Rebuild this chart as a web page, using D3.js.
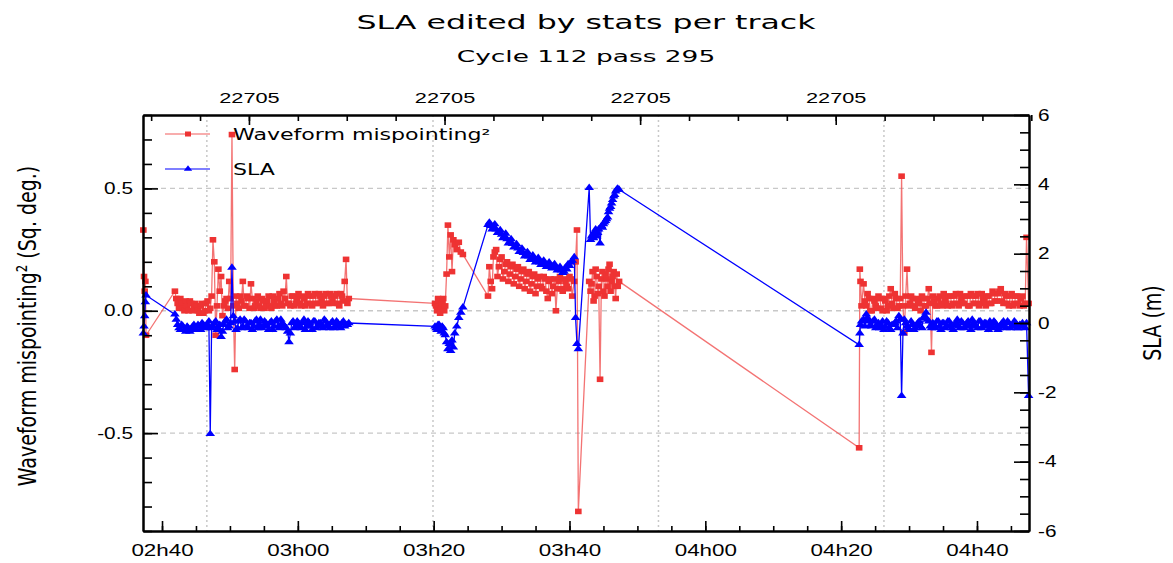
<!DOCTYPE html>
<html lang="en">
<head>
<meta charset="utf-8">
<title>SLA edited by stats per track</title>
<script src="https://d3js.org/d3.v7.min.js"></script>
<style>
  body { margin: 0; background: #fff; }
  svg { display: block; font-family: "DejaVu Sans", sans-serif; }
  .axis path, .axis line { stroke: #000; }
  .axis path { stroke-width: 2; }
  .axis line { stroke-width: 1.6; }
  .axis text { font-size: 16px; fill: #000; }
</style>
</head>
<body>
<div id="container"></div>
<script>
// time in minutes after 02h00, mispointing in sq. deg., SLA in m
var time = [
  // start of pass
  37.25, 37.35, 37.45, 37.55, 37.65,
  41.9, 42.3, 42.7, 43.1, 43.5, 43.9, 44.3, 44.7, 45.1, 45.5,
  45.9, 46.3, 46.7, 47.1, 47.5, 47.9, 48.3, 48.7, 49.1, 49.5,
  49.9, 50.3, 50.7, 51.1, 51.5, 51.9, 52.3, 52.7, 53.1, 53.5,
  53.9, 54.3, 54.7, 55.1, 55.5, 55.9, 56.3, 56.7, 57.1, 57.5,
  57.9, 58.3, 58.7, 59.1, 59.5, 59.9, 60.3, 60.7, 61.1, 61.5,
  61.9, 62.3, 62.7, 63.1, 63.5, 63.9, 64.3, 64.7, 65.1, 65.5,
  65.9, 66.3, 66.7, 67.1, 67.5,
  // second block
  80.2, 80.5, 80.8, 81.1, 81.4, 81.7, 81.9, 82.1, 82.3, 82.5,
  82.7, 82.9, 83.1, 83.4, 83.7, 84.0, 84.3,
  88.0, 88.4, 88.8, 89.2, 89.6, 90.0, 90.4, 90.8, 91.2, 91.6,
  92.0, 92.4, 92.8, 93.2, 93.6, 94.0, 94.4, 94.8, 95.2, 95.6,
  96.0, 96.4, 96.8, 97.2, 97.6, 98.0, 98.4, 98.8, 99.2, 99.6,
  100.0, 100.4, 100.7, 100.9, 101.1, 101.3,
  102.9, 103.1, 103.4, 103.7, 104.0, 104.3, 104.5, 104.7, 105.0, 105.3,
  105.6, 105.9, 106.2, 106.5, 106.8, 107.1, 107.3,
  // third block
  142.65, 142.75, 142.85, 143.0,
  143.3, 143.7, 144.1, 144.5, 144.9, 145.3, 145.7, 146.1, 146.5, 146.9,
  147.3, 147.7, 148.1, 148.5, 148.9, 149.3, 149.7, 150.1, 150.5, 150.9,
  151.3, 151.7, 152.1, 152.5, 152.9, 153.3, 153.7, 154.1, 154.5, 154.9,
  155.3, 155.7, 156.1, 156.5, 156.9, 157.3, 157.7, 158.1, 158.5, 158.9,
  159.3, 159.7, 160.1, 160.5, 160.9, 161.3, 161.7, 162.1, 162.5, 162.9,
  163.3, 163.7, 164.1, 164.5, 164.9, 165.3, 165.7, 166.1, 166.5, 166.9,
  167.3, 167.6
];
var misp = [
  0.33, 0.14, 0.08, 0.12, -0.10,
  0.08, 0.03, 0.05, 0.01, 0.04, 0.00, 0.03, 0.01, 0.02, -0.01,
  0.03, 0.00, 0.04, 0.01, 0.29, -0.10, 0.17, 0.14, 0.02, 0.05,
  0.12, 0.72, -0.24, 0.03, 0.06, 0.12, 0.02, 0.05, 0.11, 0.01,
  0.04, 0.02, 0.05, 0.01, 0.04, 0.02, 0.06, 0.02, 0.05, 0.03,
  0.08, 0.14, 0.03, 0.06, 0.02, 0.05, 0.03, 0.06, 0.02, 0.07,
  0.03, 0.06, 0.03, 0.07, 0.04, 0.06, 0.03, 0.07, 0.04, 0.06,
  0.03, 0.07, 0.04, 0.21, 0.05,
  0.03, 0.00, 0.04, 0.01, 0.05, 0.02, 0.15, 0.35, 0.22, 0.31,
  0.16, 0.29, 0.27, 0.25, 0.28, 0.24, 0.23,
  0.06, 0.12, 0.22, 0.25, 0.18, 0.22, 0.16, 0.20, 0.15, 0.19,
  0.14, 0.18, 0.13, 0.17, 0.12, 0.16, 0.11, 0.15, 0.10, 0.14,
  0.09, 0.13, 0.05, 0.13, 0.10, 0.00, 0.12, 0.09, 0.13, 0.10,
  0.14, 0.06, 0.12, 0.20, 0.33, -0.82,
  0.12, 0.08, 0.16, 0.06, 0.14, 0.10, -0.28, 0.13, 0.08, 0.15,
  0.10, 0.19, 0.12, 0.16, 0.05, 0.10, 0.12,
  -0.56, 0.17, 0.12, 0.02,
  0.11, 0.02, 0.05, 0.00, 0.04, 0.01, 0.05, 0.00, 0.04, 0.02,
  0.09, 0.01, 0.05, 0.02, 0.55, -0.09, 0.17, 0.03, 0.05, 0.01,
  0.04, 0.00, 0.05, 0.02, 0.09, -0.17, 0.04, 0.02, 0.06, 0.02,
  0.05, 0.02, 0.06, 0.03, 0.07, 0.02, 0.05, 0.03, 0.06, 0.02,
  0.06, 0.03, 0.07, 0.03, 0.05, 0.02, 0.06, 0.03, 0.07, 0.04,
  0.08, 0.04, 0.07, 0.03, 0.06, 0.02, 0.06, 0.03, 0.05, 0.02,
  0.30, 0.03
];
var sla = [
  -0.30, -0.10, 0.20, 0.60, 0.80,
  0.25, -0.05, -0.20, -0.10, -0.25, -0.15, -0.20, -0.05, -0.20, -0.10,
  0.00, -0.15, -0.05, -3.20, -0.10, 0.05, -0.15, -0.40, -0.05, 0.10,
  -0.10, 1.60, 0.05, -0.15, 0.10, -0.10, 0.05, -0.15, 0.00, -0.10,
  0.10, -0.05, -0.15, 0.05, -0.10, 0.00, -0.20, 0.05, -0.10, 0.10,
  -0.05, -0.15, -0.55, 0.00, -0.15, 0.05, -0.10, 0.00, -0.20, 0.05,
  -0.10, 0.05, -0.15, 0.00, -0.10, 0.10, -0.05, -0.15, 0.05, -0.10,
  0.00, -0.15, 0.05, -0.05, 0.00,
  -0.10, -0.20, -0.05, -0.25, -0.15, -0.35, -0.55, -0.75, -0.60, -0.80,
  -0.50, -0.70, -0.30, -0.10, 0.15, 0.30, 0.45,
  2.83, 2.80, 2.75, 2.70, 2.62, 2.55, 2.50, 2.42, 2.35, 2.28,
  2.20, 2.15, 2.08, 2.02, 1.98, 1.92, 1.88, 1.85, 1.80, 1.75,
  1.72, 1.70, 1.66, 1.62, 1.65, 1.60, 1.55, 1.52, 1.48, 1.55,
  1.65, 1.80, 1.90, 0.15, -0.60, -0.75,
  3.90, 2.40, 2.55, 2.62, 2.50, 2.70, 2.30, 2.80, 2.85, 2.95,
  3.05, 3.30, 3.45, 3.65, 3.80, 3.88, 3.85,
  -0.63, -0.30, -0.05, 0.05,
  0.10, 0.25, 0.05, -0.10, 0.10, -0.05, -0.15, 0.05, -0.10, 0.00,
  -0.20, -0.05, 0.05, 0.20, -2.10, 0.10, -0.10, -0.20, -0.05, -0.15,
  0.00, -0.10, 0.15, 0.30, 0.05, -0.15, -0.05, 0.05, -0.10, 0.00,
  -0.15, 0.05, -0.05, -0.20, 0.00, -0.10, 0.05, -0.15, 0.00, -0.10,
  0.10, -0.05, -0.15, 0.05, -0.10, 0.00, -0.20, -0.05, 0.05, -0.10,
  -0.15, 0.00, -0.10, 0.05, -0.15, -0.05, 0.00, -0.15, -0.05, -0.10,
  0.00, -2.10
];

// samples in between, inside the dense stretches
var timeFill = [
  42.1, 42.5, 42.9, 43.3, 43.7, 44.1, 44.5, 44.9, 45.3, 45.7,
  46.1, 46.5, 46.9, 47.3, 47.7, 48.1, 48.5, 48.9, 49.3, 49.7,
  50.1, 50.5, 50.9, 51.3, 51.7, 52.1, 52.5, 52.9, 53.3, 53.7,
  54.1, 54.5, 54.9, 55.3, 55.7, 56.1, 56.5, 56.9, 57.3, 57.7,
  58.1, 58.5, 58.9, 59.3, 59.7, 60.1, 60.5, 60.9, 61.3, 61.7,
  62.1, 62.5, 62.9, 63.3, 63.7, 64.1, 64.5, 64.9, 65.3, 65.7,
  66.1, 66.5, 66.9, 67.3,
  80.35, 80.65, 80.95, 81.25, 81.55,
  88.2, 88.6, 89.0, 89.4, 89.8, 90.2, 90.6, 91.0, 91.4, 91.8,
  92.2, 92.6, 93.0, 93.4, 93.8, 94.2, 94.6, 95.0, 95.4, 95.8,
  96.2, 96.6, 97.0, 97.4, 97.8, 98.2, 98.6, 99.0, 99.4, 99.8,
  100.2,
  103.25, 103.55, 103.85, 104.15, 104.85, 105.15, 105.45, 105.75, 106.05, 106.35,
  106.65, 106.95,
  143.5, 143.9, 144.3, 144.7, 145.1, 145.5, 145.9, 146.3, 146.7, 147.1,
  147.5, 147.9, 148.3, 148.7, 149.1, 149.5, 149.9, 150.3, 150.7, 151.1,
  151.5, 151.9, 152.3, 152.7, 153.1, 153.5, 153.9, 154.3, 154.7, 155.1,
  155.5, 155.9, 156.3, 156.7, 157.1, 157.5, 157.9, 158.3, 158.7, 159.1,
  159.5, 159.9, 160.3, 160.7, 161.1, 161.5, 161.9, 162.3, 162.7, 163.1,
  163.5, 163.9, 164.3, 164.7, 165.1, 165.5, 165.9, 166.3, 166.7, 167.1
];
var mispFill = [
  0.05, 0.01, 0.03, 0.00, 0.02, 0.04, 0.00, 0.03, 0.00, 0.02,
  -0.01, 0.03, 0.00, 0.06, 0.20, 0.02, 0.08, -0.02, 0.04, 0.01,
  0.05, 0.02, 0.06, 0.01, 0.04, 0.02, 0.06, 0.01, 0.05, 0.02,
  0.06, 0.01, 0.04, 0.02, 0.06, 0.01, 0.04, 0.02, 0.07, 0.02,
  0.05, 0.03, 0.02, 0.06, 0.03, 0.07, 0.02, 0.05, 0.03, 0.06,
  0.02, 0.07, 0.03, 0.06, 0.02, 0.07, 0.03, 0.06, 0.03, 0.07,
  0.02, 0.06, 0.12, 0.03,
  0.02, 0.05, -0.01, 0.03, 0.00,
  0.18, 0.09, 0.24, 0.14, 0.21, 0.13, 0.19, 0.12, 0.18, 0.11,
  0.17, 0.10, 0.16, 0.09, 0.15, 0.08, 0.14, 0.07, 0.13, 0.10,
  0.14, 0.08, 0.12, 0.07, 0.13, 0.09, 0.14, 0.08, 0.12, 0.09,
  0.13,
  0.11, 0.04, 0.17, 0.07, 0.16, 0.06, 0.13, 0.17, 0.08, 0.14,
  0.10, 0.15,
  0.04, 0.07, 0.00, 0.05, 0.02, 0.06, 0.01, 0.05, 0.00, 0.06,
  0.03, 0.07, 0.01, 0.05, 0.02, 0.06, 0.02, 0.06, 0.02, 0.05,
  0.03, 0.06, 0.02, 0.05, 0.03, 0.06, 0.02, 0.05, 0.03, 0.07,
  0.03, 0.06, 0.02, 0.06, 0.03, 0.07, 0.03, 0.06, 0.02, 0.07,
  0.03, 0.06, 0.02, 0.07, 0.04, 0.06, 0.03, 0.08, 0.04, 0.07,
  0.09, 0.03, 0.06, 0.02, 0.07, 0.03, 0.06, 0.02, 0.06, 0.03
];
var slaFill = [
  0.10, -0.15, -0.05, -0.20, -0.10, -0.25, -0.10, -0.15, -0.05, -0.20,
  -0.05, -0.10, 0.05, -0.15, 0.00, -0.20, -0.05, -0.25, 0.05, -0.15,
  0.00, 0.20, -0.20, 0.05, -0.15, 0.10, -0.10, 0.00, -0.20, 0.05,
  -0.15, 0.10, -0.10, 0.00, -0.20, 0.05, -0.10, 0.10, -0.15, 0.00,
  -0.10, -0.25, -0.30, 0.05, -0.10, 0.00, -0.15, 0.10, -0.10, 0.00,
  -0.20, 0.05, -0.10, 0.00, -0.15, 0.05, -0.10, 0.00, -0.15, 0.05,
  -0.10, 0.00, -0.10, -0.05,
  -0.15, -0.05, -0.20, -0.10, -0.30,
  2.90, 2.70, 2.85, 2.60, 2.68, 2.45, 2.58, 2.30, 2.42, 2.18,
  2.28, 2.05, 2.15, 1.92, 2.05, 1.82, 1.95, 1.75, 1.88, 1.68,
  1.80, 1.62, 1.75, 1.58, 1.70, 1.52, 1.62, 1.45, 1.60, 1.70,
  1.75,
  2.50, 2.45, 2.70, 2.60, 2.75, 2.90, 3.00, 3.20, 3.35, 3.55,
  3.70, 3.85,
  -0.10, 0.15, -0.05, 0.05, -0.15, 0.00, -0.10, -0.20, 0.05, -0.15,
  -0.05, 0.00, -0.15, 0.10, -0.30, 0.00, -0.15, 0.05, -0.20, -0.05,
  0.05, -0.15, 0.20, 0.10, -0.10, 0.00, -0.15, 0.05, -0.20, 0.00,
  -0.10, 0.05, -0.15, -0.05, 0.10, -0.15, 0.00, -0.10, 0.05, -0.20,
  0.00, -0.10, 0.05, -0.15, 0.00, -0.10, 0.05, -0.15, 0.00, -0.20,
  -0.05, 0.05, -0.15, 0.00, -0.10, 0.05, -0.15, -0.05, 0.00, -0.15
];

var seriesNames = ['Waveform mispointing\u00b2', 'SLA'];
var seriesColors = ['#ee3333', '#0000ff'];
var timeTicks = [40, 60, 80, 100, 120, 140, 160];
var dayTicks = [22705.12, 22705.14, 22705.16, 22705.18];
var gridTimes = [46.6, 79.9, 113.1, 146.3];
var mispTicks = [-0.5, 0, 0.5];
var slaTicks = [-6, -4, -2, 0, 2, 4, 6];

var width = 1173, height = 563;
var margin = {top: 115, right: 144, bottom: 32, left: 143};
var x0 = margin.left, x1 = width - margin.right, y0 = margin.top, y1 = height - margin.bottom;

var svg = d3.select('#container').append('svg')
    .attr('width', width).attr('height', height);

var xScale = d3.scaleLinear().domain([37.2, 167.66]).range([x0, x1]);
var dayScale = d3.scaleLinear()
    .domain([22705 + (120 + 37.2) / 1440, 22705 + (120 + 167.66) / 1440])
    .range([x0, x1]);
var yLeft = d3.scaleLinear().domain([-0.9, 0.8]).range([y1, y0]);
var yRight = d3.scaleLinear().domain([-6, 6]).range([y1, y0]);

// stretched text, the reference is drawn wider than tall
function stretched(sel, sx) {
    sel.each(function() {
        var t = d3.select(this);
        var x = +t.attr('x') || 0;
        t.attr('x', x / sx).attr('transform', 'scale(' + sx + ',1)');
    });
}

// grid
svg.append('g').selectAll('line').data(mispTicks).join('line')
    .attr('x1', x0).attr('x2', x1)
    .attr('y1', d => yLeft(d)).attr('y2', d => yLeft(d))
    .attr('stroke', '#c8c8c8').attr('stroke-width', 1.3).attr('stroke-dasharray', '5,4');
svg.append('g').selectAll('line').data(gridTimes).join('line')
    .attr('x1', d => xScale(d)).attr('x2', d => xScale(d))
    .attr('y1', y0).attr('y2', y1)
    .attr('stroke', '#c8c8c8').attr('stroke-width', 1.5).attr('stroke-dasharray', '2,3');

// all samples in time order
var tAll = time.concat(timeFill);
var mAll = misp.concat(mispFill);
var sAll = sla.concat(slaFill);
var idx = d3.range(tAll.length).sort((a, b) => tAll[a] - tAll[b]);
var plot = svg.append('g');

// mispointing
var mispLine = d3.line().x(i => xScale(tAll[i])).y(i => yLeft(mAll[i]));
plot.append('path').attr('d', mispLine(idx))
    .attr('fill', 'none').attr('stroke', '#f05050').attr('stroke-opacity', 0.8).attr('stroke-width', 1.3);
plot.append('g').selectAll('rect').data(idx).join('rect')
    .attr('x', i => xScale(tAll[i]) - 3.3).attr('y', i => yLeft(mAll[i]) - 2.8)
    .attr('width', 6.6).attr('height', 5.6).attr('fill', seriesColors[0]);

// SLA
var slaLine = d3.line().x(i => xScale(tAll[i])).y(i => yRight(sAll[i]));
plot.append('path').attr('d', slaLine(idx))
    .attr('fill', 'none').attr('stroke', seriesColors[1]).attr('stroke-width', 1.3);
var tri = d3.symbol().type(d3.symbolTriangle).size(24);
plot.append('g').selectAll('path').data(idx).join('path')
    .attr('d', tri)
    .attr('transform', i => 'translate(' + xScale(tAll[i]) + ',' + yRight(sAll[i]) + ') scale(1.3,1)')
    .attr('fill', seriesColors[1]);

// axes
var fmtTime = function(m) {
    var h = 2 + Math.floor(m / 60), mm = m % 60;
    return '0' + h + 'h' + (mm < 10 ? '0' : '') + mm;
};
var fmtNum = function(f) { return function(d) { return f(d).replace('\u2212', '-'); }; };

svg.append('g').attr('class', 'axis').attr('transform', 'translate(0,' + y1 + ')')
    .call(d3.axisBottom(xScale).tickValues(d3.range(40, 166, 5)).tickSizeInner(-5).tickSizeOuter(0).tickFormat(''));
var bx = svg.append('g').attr('class', 'axis').attr('transform', 'translate(0,' + y1 + ')')
    .call(d3.axisBottom(xScale).tickValues(timeTicks).tickSizeInner(-10).tickSizeOuter(0).tickFormat(fmtTime));
bx.selectAll('text').attr('y', 14).call(stretched, 1.4);

svg.append('g').attr('class', 'axis').attr('transform', 'translate(0,' + y0 + ')')
    .call(d3.axisTop(dayScale).tickValues(d3.range(22705.11, 22705.2, 0.005)).tickSizeInner(-6).tickSizeOuter(0).tickFormat(''));
var tx = svg.append('g').attr('class', 'axis').attr('transform', 'translate(0,' + y0 + ')')
    .call(d3.axisTop(dayScale).tickValues(dayTicks).tickSizeInner(-10).tickSizeOuter(0).tickFormat(d3.format('d')));
tx.selectAll('text').attr('y', -12).style('font-size', '15px').call(stretched, 1.45);

svg.append('g').attr('class', 'axis').attr('transform', 'translate(' + x0 + ',0)')
    .call(d3.axisLeft(yLeft).tickValues(d3.range(-9, 9).map(d => d / 10)).tickSizeInner(-9).tickSizeOuter(0).tickFormat(''));
var lx = svg.append('g').attr('class', 'axis').attr('transform', 'translate(' + x0 + ',0)')
    .call(d3.axisLeft(yLeft).tickValues(mispTicks).tickSizeInner(-15).tickSizeOuter(0).tickFormat(fmtNum(d3.format('.1f'))));
lx.selectAll('text').attr('x', -10).call(stretched, 1.3);

svg.append('g').attr('class', 'axis').attr('transform', 'translate(' + x1 + ',0)')
    .call(d3.axisRight(yRight).tickValues(d3.range(-12, 13).map(d => d / 2)).tickSizeInner(-9).tickSizeOuter(0).tickFormat(''));
var rx = svg.append('g').attr('class', 'axis').attr('transform', 'translate(' + x1 + ',0)')
    .call(d3.axisRight(yRight).tickValues(slaTicks).tickSizeInner(-15).tickSizeOuter(0).tickFormat(fmtNum(d3.format('d'))));
rx.selectAll('text').attr('x', 9).call(stretched, 1.3);

// axis titles
svg.append('text').text('Waveform mispointing\u00b2 (Sq. deg.)')
    .attr('text-anchor', 'middle').attr('dy', '0.35em')
    .attr('transform', 'translate(27,326) scale(1.35,1) rotate(-90)')
    .style('font-size', '19px');
svg.append('text').text('SLA (m)')
    .attr('text-anchor', 'middle').attr('dy', '0.35em')
    .attr('transform', 'translate(1152,323) scale(1.35,1) rotate(-90)')
    .style('font-size', '19px');

// titles
svg.append('text').text('SLA edited by stats per track')
    .attr('text-anchor', 'middle')
    .attr('transform', 'translate(586,29) scale(1.58,1)')
    .style('font-size', '20px');
svg.append('text').text('Cycle 112 pass 295')
    .attr('text-anchor', 'middle')
    .attr('transform', 'translate(586,62) scale(1.6,1)')
    .style('font-size', '16.5px');

// legend
var legend = svg.append('g').selectAll('g').data(seriesNames).join('g')
    .attr('transform', (d, i) => 'translate(165,' + (134 + i * 35) + ')');
legend.append('line').attr('x1', 0).attr('x2', 45)
    .attr('stroke', (d, i) => seriesColors[i]).attr('stroke-opacity', (d, i) => i ? 1 : 0.8).attr('stroke-width', 1.2);
legend.filter((d, i) => i === 0).append('rect')
    .attr('x', 20).attr('y', -2.5).attr('width', 6).attr('height', 5).attr('fill', seriesColors[0]);
legend.filter((d, i) => i === 1).append('path')
    .attr('d', d3.symbol().type(d3.symbolTriangle).size(18)).attr('transform', 'translate(23,0) scale(1.3,1)').attr('fill', seriesColors[1]);
legend.append('text').text(d => d)
    .attr('transform', 'translate(68,6) scale(1.38,1)')
    .style('font-size', '16px');
</script>
</body>
</html>
